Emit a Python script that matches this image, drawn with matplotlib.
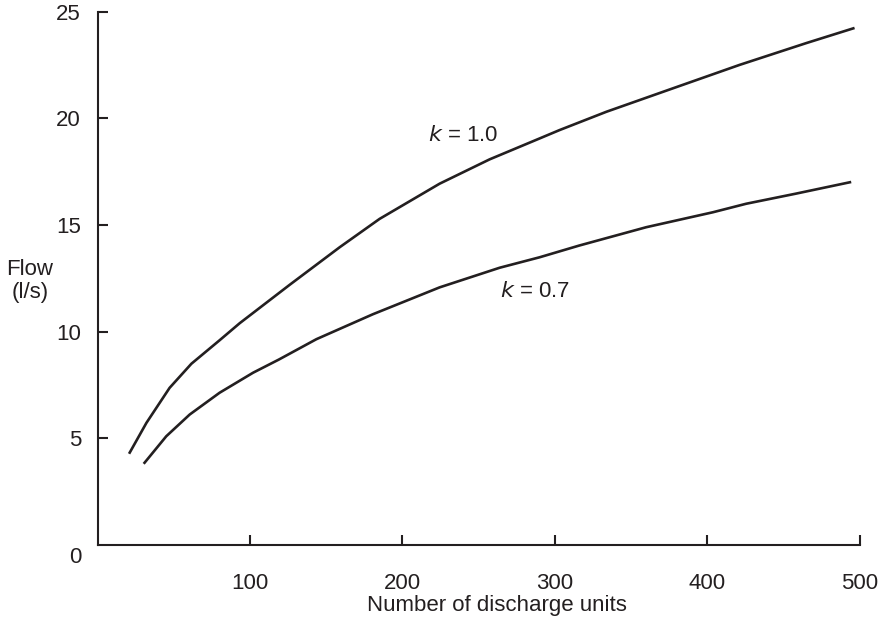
import numpy as np
import matplotlib.pyplot as plt

plt.rcParams['font.family'] = ['Liberation Sans', 'DejaVu Sans']

# puntos
du_k10 = [20.6, 32, 47.2, 61.5, 80, 93.2, 126, 158.8, 185, 224.4, 257.2, 290,
          303, 333.8, 377.5, 421.3, 465, 496.7]
q_k10 = [4.28, 5.73, 7.37, 8.5, 9.6, 10.4, 12.2, 13.96, 15.29, 16.94, 18.08, 19.06,
         19.45, 20.31, 21.41, 22.51, 23.53, 24.24]

du_k07 = [30.2, 45, 60.4, 80, 102, 119, 143.5, 180.6, 224.4, 263.8, 290, 316,
          360, 403.7, 425.6, 458, 494.5]
q_k07 = [3.81, 5.1, 6.12, 7.14, 8.08, 8.7, 9.65, 10.82, 12.08, 13.0, 13.49, 14.04,
         14.9, 15.6, 16.0, 16.47, 17.02]

x_ticks = [100, 200, 300, 400, 500]
y_ticks = [5, 10, 15, 20, 25]

fig = plt.figure(figsize=(8.88, 6.18), dpi=100)
ax = fig.add_axes([0.110, 0.118, 0.858, 0.863])

ax.plot(du_k10, q_k10, color='#231f20', lw=1.9, solid_capstyle='butt',
        solid_joinstyle='round')
ax.plot(du_k07, q_k07, color='#231f20', lw=1.9, solid_capstyle='butt',
        solid_joinstyle='round')

ax.set_xlim(0, 500)
ax.set_ylim(0, 25)
ax.set_xticks(x_ticks)
ax.set_yticks(y_ticks)

for s in ['top', 'right']:
    ax.spines[s].set_visible(False)
for s in ['left', 'bottom']:
    ax.spines[s].set_linewidth(1.5)
    ax.spines[s].set_color('#231f20')

ax.tick_params(axis='both', direction='in', length=7, width=1.5, color='#231f20',
               labelsize=16, labelcolor='#231f20')
ax.tick_params(axis='y', pad=12)
ax.tick_params(axis='x', pad=20)

ax.annotate('0', xy=(0, 0), xytext=(-12, -9), textcoords='offset points',
            ha='right', va='center', fontsize=16, color='#231f20')

ax.text(217, 19.2, '$k$ = 1.0', fontsize=16, color='#231f20', va='center')
ax.text(264, 11.9, '$k$ = 0.7', fontsize=16, color='#231f20', va='center')

fig.text(30 / 888, 1 - 281 / 618, 'Flow\n(l/s)', ha='center', va='center',
         fontsize=16, color='#231f20', linespacing=1.1)
fig.text(497 / 888, 1 - 606 / 618, 'Number of discharge units', ha='center',
         va='center', fontsize=16, color='#231f20')

fig.savefig('out.png', dpi=100)
